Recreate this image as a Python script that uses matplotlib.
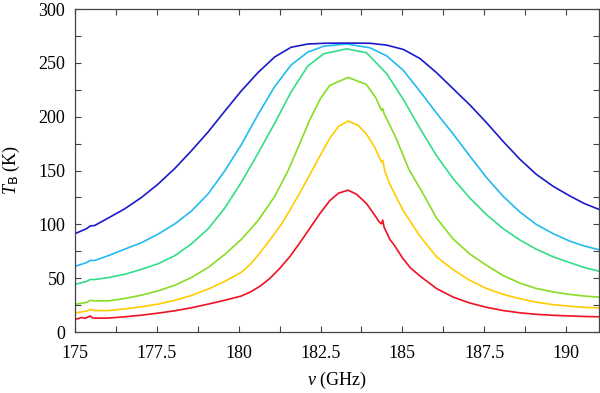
#!/usr/bin/env python3
# -*- coding: UTF-8 -*-
"""
Brightness temperature around the 183 GHz water line, six model profiles.
"""

import matplotlib
matplotlib.use("Agg")
import matplotlib.pyplot as plt
from matplotlib.ticker import MultipleLocator

# frequencies (GHz) and brightness temperatures (K)
freq_blue = [175.0, 175.35, 175.46, 175.6, 176.02, 176.52, 177.03, 177.54, 178.05, 178.56,
             179.07, 179.57, 180.08, 180.59, 181.1, 181.6, 182.11, 182.6, 183.3, 184.01,
             184.52, 185.03, 185.54, 186.04, 186.55, 187.06, 187.57, 188.08, 188.59,
             189.09, 189.6, 190.11, 190.55, 191.0]
tb_blue = [91.4, 96.0, 98.5, 99.0, 106.0, 114.5, 125.0, 137.5, 152.0, 168.5,
           186.0, 205.0, 224.0, 241.0, 255.5, 264.5, 267.5, 268.2, 268.4, 268.2,
           266.5, 262.5, 254.0, 241.0, 226.0, 211.0, 194.5, 177.0, 160.5,
           146.5, 135.5, 126.5, 119.5, 114.0]

freq_cyan = [175.0, 175.35, 175.46, 175.6, 176.02, 176.52, 177.03, 177.54, 178.05, 178.56,
             179.07, 179.57, 180.08, 180.59, 181.1, 181.6, 182.11, 182.6, 183.3, 184.01,
             184.52, 185.03, 185.54, 186.04, 186.55, 187.06, 187.57, 188.08, 188.59,
             189.09, 189.6, 190.11, 190.55, 191.0]
tb_cyan = [61.0, 64.5, 66.5, 66.5, 71.0, 77.0, 83.0, 91.0, 100.5, 112.5,
           128.5, 149.5, 174.0, 202.0, 228.0, 248.0, 260.0, 265.5, 267.5, 264.0,
           256.5, 243.0, 223.5, 203.5, 184.0, 163.5, 143.5, 126.0, 111.5,
           100.0, 91.5, 84.5, 80.0, 76.5]

freq_green = [175.0, 175.35, 175.46, 175.6, 176.02, 176.52, 177.03, 177.54, 178.05, 178.56,
              179.07, 179.57, 180.08, 180.59, 181.1, 181.6, 182.11, 182.6, 183.3, 183.9,
              184.52, 185.03, 185.54, 186.04, 186.55, 187.06, 187.57, 188.08, 188.59,
              189.09, 189.6, 190.11, 190.55, 191.0]
tb_green = [44.3, 47.0, 48.8, 48.8, 50.6, 53.7, 58.3, 63.5, 71.0, 82.0,
            96.0, 115.0, 139.0, 166.0, 194.0, 223.0, 247.0, 258.5, 263.0, 259.5,
            240.0, 216.0, 189.0, 164.0, 142.5, 124.5, 109.0, 96.0, 85.5,
            77.0, 70.0, 64.5, 60.0, 56.6]

freq_ygreen = [175.0, 175.35, 175.46, 175.6, 176.02, 176.52, 177.03, 177.54, 178.05, 178.56,
               179.07, 179.57, 180.08, 180.59, 181.1, 181.51, 181.85, 182.17, 182.5, 182.78,
               183.34, 183.9, 184.2, 184.36, 184.4, 184.44, 184.81, 185.2, 185.68, 186.04,
               186.55, 187.06, 187.57, 188.08, 188.59, 189.09, 189.6, 190.11, 190.55, 191.0]
tb_ygreen = [25.8, 27.5, 29.5, 29.0, 29.0, 31.2, 34.3, 38.3, 43.5, 50.8,
             60.0, 72.0, 86.0, 103.5, 126.0, 150.0, 174.0, 197.0, 217.0, 229.0,
             236.5, 230.0, 217.0, 206.0, 207.5, 203.0, 180.0, 151.0, 126.0, 106.0,
             86.5, 72.5, 62.0, 52.5, 45.5, 40.5, 37.3, 35.0, 33.5, 32.5]

freq_yellow = [175.0, 175.35, 175.46, 175.6, 176.02, 176.52, 177.03, 177.54, 178.05, 178.56,
               179.07, 179.57, 180.08, 180.34, 180.65, 180.95, 181.3, 181.56, 181.9, 182.24,
               182.78, 183.05, 183.34, 183.65, 183.9, 184.15, 184.36, 184.4, 184.46, 184.62,
               185.02, 185.54, 186.04, 186.55, 187.06, 187.57, 188.08, 188.59, 189.09,
               189.6, 190.11, 190.55, 191.0]
tb_yellow = [17.7, 19.5, 21.0, 20.0, 20.0, 21.5, 23.5, 26.0, 29.5, 34.0,
             40.0, 47.0, 55.5, 62.5, 73.5, 85.4, 100.0, 113.0, 131.0, 150.0,
             180.0, 191.0, 196.0, 192.0, 184.0, 172.0, 158.0, 159.5, 150.0, 137.0,
             113.0, 89.0, 70.0, 58.0, 48.0, 40.5, 35.0, 31.0, 27.8,
             25.5, 24.0, 23.0, 22.5]

freq_red = [175.0, 175.1, 175.2, 175.3, 175.4, 175.46, 175.52, 175.6, 176.02, 176.52,
            177.03, 177.54, 178.05, 178.56, 179.07, 179.57, 180.08, 180.34, 180.65, 180.95,
            181.25, 181.56, 181.87, 182.17, 182.48, 182.78, 183.05, 183.34, 183.6, 183.9,
            184.1, 184.3, 184.36, 184.4, 184.44, 184.62, 184.72, 184.78, 185.0, 185.25,
            185.54, 186.04, 186.55, 187.06, 187.57, 188.08, 188.59, 189.09, 189.6,
            190.11, 190.55, 191.0]
tb_red = [12.0, 12.5, 13.6, 12.8, 14.0, 15.0, 13.5, 13.0, 13.0, 14.2,
          15.7, 17.6, 19.8, 22.6, 26.0, 29.5, 33.5, 37.0, 42.5, 49.8,
          59.0, 70.0, 83.0, 96.3, 110.0, 122.0, 129.0, 131.8, 128.0, 119.5,
          111.0, 102.0, 100.5, 104.0, 97.5, 86.0, 82.0, 79.5, 69.0, 59.5,
          52.0, 40.5, 32.5, 27.0, 23.0, 20.0, 17.9, 16.5, 15.6,
          15.0, 14.5, 14.2]

series = [
    (freq_red, tb_red, "#ee1122"),
    (freq_yellow, tb_yellow, "#ffcc00"),
    (freq_ygreen, tb_ygreen, "#88dd22"),
    (freq_green, tb_green, "#33dd88"),
    (freq_cyan, tb_cyan, "#22bbee"),
    (freq_blue, tb_blue, "#1a1acc"),
]

plt.rcParams["font.family"] = ["Liberation Serif", "DejaVu Serif"]
plt.rcParams["mathtext.fontset"] = "custom"
plt.rcParams["mathtext.it"] = "Liberation Serif:italic"
plt.rcParams["mathtext.rm"] = "DejaVu Sans"
plt.rcParams["mathtext.sf"] = "DejaVu Sans"

fig = plt.figure(figsize=(6.0, 3.93), dpi=100)
ax = fig.add_axes([0.125, 0.155, 0.873, 0.822])

for f, t, c in series:
    ax.plot(f, t, color=c, linewidth=1.2)

ax.set_xlim(175, 191)
ax.set_ylim(0, 300)
ax.xaxis.set_major_locator(MultipleLocator(2.5))
ax.xaxis.set_minor_locator(MultipleLocator(1.25))
ax.yaxis.set_major_locator(MultipleLocator(50))
ax.yaxis.set_minor_locator(MultipleLocator(25))
ax.xaxis.set_major_formatter(plt.FuncFormatter(lambda v, p: f"{v:g}"))
ax.tick_params(which="both", direction="in", top=True, right=True,
               length=4, width=0.8, labelsize=13, color="#444444")
ax.tick_params(axis="x", pad=9)
ax.tick_params(axis="y", pad=7)
for s in ax.spines.values():
    s.set_color("#444444")
    s.set_linewidth(0.9)

ax.set_xlabel(r"$\nu$ (GHz)", fontsize=13, labelpad=6)
ax.set_ylabel(r"$T_{\mathrm{B}}$ (K)", fontsize=13, labelpad=12)

fig.savefig("out.png", dpi=100)
